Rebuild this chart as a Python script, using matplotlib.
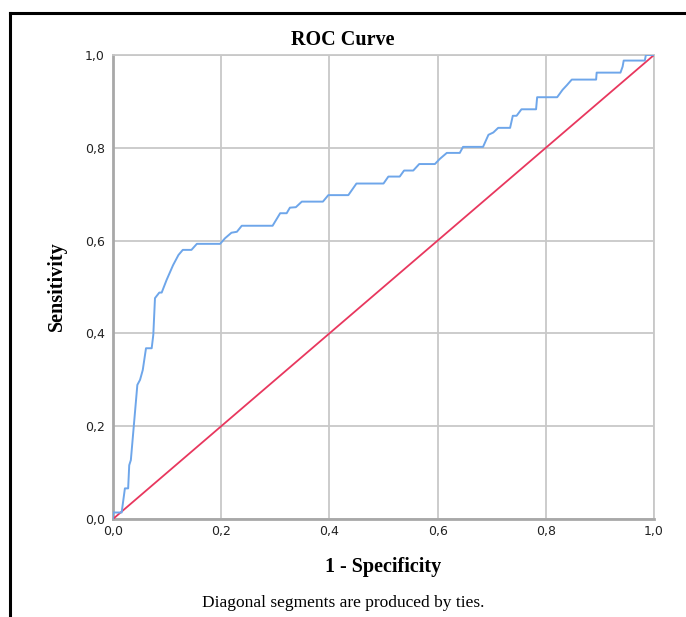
import matplotlib
matplotlib.use("Agg")
import matplotlib.pyplot as plt
from matplotlib.lines import Line2D

# ROC curve points (1 - specificity, sensitivity)
fpr = [0, 0, 0.016, 0.022, 0.028, 0.030, 0.033, 0.045, 0.050, 0.055,
       0.061, 0.0715, 0.0745, 0.0776, 0.0856, 0.090, 0.099, 0.111, 0.121, 0.129,
       0.145, 0.155, 0.198, 0.207, 0.219, 0.229, 0.238, 0.295, 0.309, 0.321,
       0.327, 0.338, 0.349, 0.388, 0.398, 0.435, 0.450, 0.500, 0.509, 0.530,
       0.538, 0.555, 0.566, 0.595, 0.604, 0.617, 0.641, 0.647, 0.684, 0.694,
       0.703, 0.712, 0.734, 0.739, 0.746, 0.755, 0.782, 0.784, 0.821, 0.831,
       0.839, 0.848, 0.893, 0.894, 0.938, 0.942, 0.944, 0.983, 0.985, 1.0]
tpr = [0, 0.014, 0.014, 0.066, 0.066, 0.116, 0.127, 0.289, 0.300, 0.321,
       0.368, 0.368, 0.397, 0.476, 0.488, 0.488, 0.515, 0.547, 0.569, 0.580,
       0.580, 0.593, 0.593, 0.605, 0.617, 0.619, 0.632, 0.632, 0.659, 0.659,
       0.671, 0.672, 0.684, 0.684, 0.698, 0.698, 0.723, 0.723, 0.738, 0.738,
       0.751, 0.751, 0.765, 0.765, 0.776, 0.789, 0.789, 0.802, 0.802, 0.828,
       0.833, 0.843, 0.843, 0.869, 0.869, 0.883, 0.883, 0.909, 0.909, 0.925,
       0.935, 0.947, 0.947, 0.962, 0.962, 0.975, 0.988, 0.988, 1.0, 1.0]
ref_line = [0.0, 1.0]

tick_values = [0.0, 0.2, 0.4, 0.6, 0.8, 1.0]
tick_labels = ["0,0", "0,2", "0,4", "0,6", "0,8", "1,0"]

W, H = 686, 617
fig = plt.figure(figsize=(W / 100, H / 100), dpi=100)
fig.patch.set_facecolor("white")

ax = fig.add_axes([113 / W, 1 - 519 / H, (654 - 113) / W, (519 - 55) / H])

ax.plot(ref_line, ref_line, color="#e8375e", lw=1.3, zorder=3)
ax.plot(fpr, tpr, color="#6ea6ea", lw=1.4, zorder=4)

ax.set_xlim(0, 1)
ax.set_ylim(0, 1)
ax.set_xticks(tick_values)
ax.set_yticks(tick_values)
ax.set_xticklabels(tick_labels)
ax.set_yticklabels(tick_labels)
ax.grid(True, color="#c8c8c8", lw=1.3, zorder=1)
ax.set_axisbelow(True)
ax.tick_params(length=0, labelsize=9, colors="#222222")
ax.tick_params(axis="x", pad=4)
ax.tick_params(axis="y", pad=6)
for lab in ax.get_xticklabels() + ax.get_yticklabels():
    lab.set_family("DejaVu Sans")

for side in ["top", "right"]:
    ax.spines[side].set_color("#c8c8c8")
    ax.spines[side].set_linewidth(1.3)
for side in ["left", "bottom"]:
    ax.spines[side].set_color("#a8a8a8")
    ax.spines[side].set_linewidth(2.0)

serif = "Liberation Serif"
fig.text(343 / W, 1 - 40 / H, "ROC Curve", ha="center", va="center",
         family=serif, weight="bold", fontsize=14.5)
fig.text(383 / W, 1 - 567 / H, "1 - Specificity", ha="center", va="center",
         family=serif, weight="bold", fontsize=14.5)
fig.text(57 / W, 1 - 286 / H, "Sensitivity", ha="center", va="center",
         rotation=90, family=serif, weight="bold", fontsize=14.5)
fig.text(343 / W, 1 - 603 / H, "Diagonal segments are produced by ties.",
         ha="center", va="center", family=serif, fontsize=12.5)

# outer frame (top and left edges)
fig.add_artist(Line2D([10 / W, 1.0], [1 - 13 / H, 1 - 13 / H],
                      transform=fig.transFigure, color="black", lw=2.2))
fig.add_artist(Line2D([10 / W, 10 / W], [1 - 13 / H, 0.0],
                      transform=fig.transFigure, color="black", lw=2.2))

fig.savefig("out.png", dpi=100)
